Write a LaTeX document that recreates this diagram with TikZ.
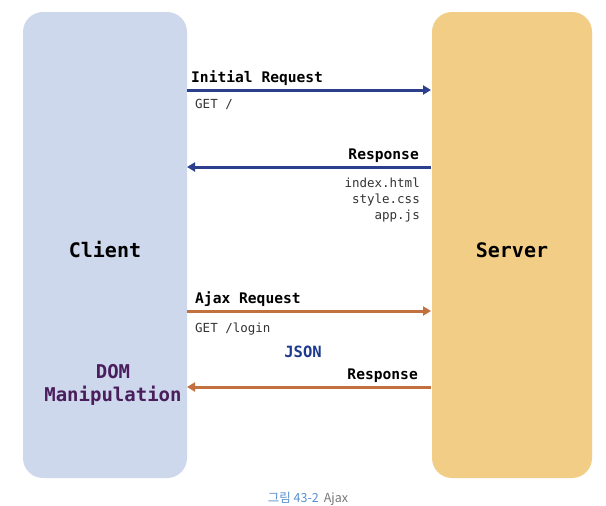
\documentclass[tikz,border=0pt]{standalone}
\usepackage{fontspec}
\setmonofont{DejaVu Sans Mono}
\newfontfamily\krfont{Noto Sans CJK KR}
\usetikzlibrary{arrows.meta}
\definecolor{clientfill}{HTML}{CDD8EC}
\definecolor{serverfill}{HTML}{F2CD85}
\definecolor{navy}{HTML}{2B3F8C}
\definecolor{rust}{HTML}{C2703E}
\definecolor{domcol}{HTML}{4A1D5C}
\definecolor{jsoncol}{HTML}{1E3A8E}
\definecolor{capblue}{HTML}{5B8FD0}
\definecolor{capgray}{HTML}{777777}
\tikzset{
  panel/.style={rounded corners=20pt, inner sep=0pt},
  big/.style={font=\ttfamily\bfseries\fontsize{20}{24}\selectfont},
  lab/.style={font=\ttfamily\bfseries\fontsize{14.6}{17}\selectfont, inner sep=0pt},
  sub/.style={font=\ttfamily\fontsize{12.5}{16}\selectfont, inner sep=0pt, text=black!80},
  msg/.style={line width=3pt, -{Triangle[length=8pt,width=9pt]}},
}
\begin{document}
\begin{tikzpicture}[x=1pt,y=-1pt]
\useasboundingbox (0,0) rectangle (606,506);
\fill[white] (0,0) rectangle (606,506);
\fill[clientfill, panel] (23,12) rectangle (187,478);
\fill[serverfill, panel] (432,12) rectangle (592,478);
\node[big] (client) at (105,250) {Client};
\node[big] (server) at (512,250) {Server};
% Initial request
\coordinate (a1) at (187,90);
\coordinate (b1) at (431,90);
\draw[msg, navy] (a1) -- (b1);
\node[lab, anchor=base west] (ir) at (191,82) {Initial Request};
\node[sub, anchor=base west] (get1) at (195,108) {GET /};
% Response
\coordinate (a2) at (431,167);
\coordinate (b2) at (187,167);
\draw[msg, navy] (a2) -- (b2);
\node[lab, anchor=base east] (r1) at (419,159) {Response};
\node[sub, anchor=base east] (f1) at (420,187) {index.html};
\node[sub, anchor=base east] (f2) at (420,203) {style.css};
\node[sub, anchor=base east] (f3) at (420,219) {app.js};
% Ajax request
\coordinate (a3) at (187,311);
\coordinate (b3) at (431,311);
\draw[msg, rust] (a3) -- (b3);
\node[lab, anchor=base west] (ar) at (195,303) {Ajax Request};
\node[sub, anchor=base west] (get2) at (195,332) {GET /login};
\node[lab, text=jsoncol, font=\ttfamily\bfseries\fontsize{15.5}{18}\selectfont] (json) at (303,352) {JSON};
% Ajax response
\coordinate (a4) at (431,387);
\coordinate (b4) at (187,387);
\draw[msg, rust] (a4) -- (b4);
\node[lab, anchor=base east] (r2) at (418,379) {Response};
\node[big, text=domcol, align=center, font=\ttfamily\bfseries\fontsize{19}{23}\selectfont] (dom) at (113,385) {DOM\\Manipulation};
% caption
\node[anchor=north, inner sep=0pt, font=\krfont\fontsize{12.5}{15}\selectfont] (cap) at (308,491.5) {\textcolor{capblue}{그림 43-2}\hspace{5pt}\textcolor{capgray}{Ajax}};
\end{tikzpicture}
\end{document}
